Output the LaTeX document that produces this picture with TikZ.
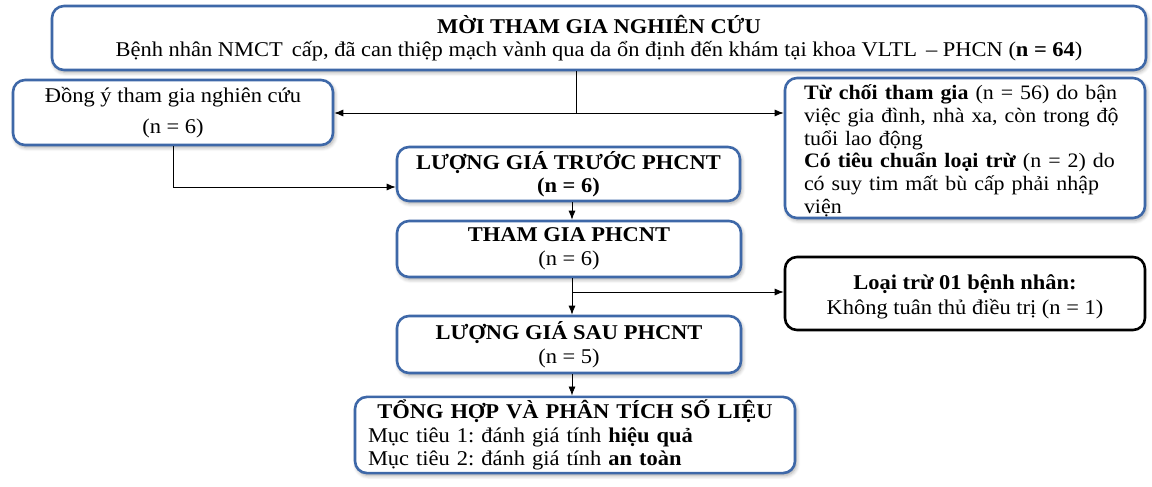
\documentclass[tikz,border=0pt]{standalone}
\usepackage{fontspec}
\setmainfont{Liberation Serif}[FakeStretch=1.07]
\usetikzlibrary{arrows.meta,shadows.blur}
\definecolor{boxblue}{RGB}{62,104,168}
\begin{document}
\fontsize{21}{23.5}\selectfont\frenchspacing
\begin{tikzpicture}[x=1pt,y=-1pt,
  box/.style={draw=boxblue, line width=2.6pt, rounded corners=12pt, fill=white,
    blur shadow={shadow xshift=1.5pt, shadow yshift=-2.5pt, shadow blur steps=6, shadow opacity=35},
    inner sep=3pt, align=center},
  blackbox/.style={draw=black, line width=2.6pt, rounded corners=12pt, fill=white, inner sep=3pt, align=center},
  conn/.style={line width=0.8pt, -{Latex[length=9pt,width=7pt]}},
  plainline/.style={line width=0.8pt}]
\useasboundingbox (0,0) rectangle (1152,487);

\node[box, minimum width=1094pt, minimum height=64pt] (top) at (599,38)
  {\textbf{MỜI THAM GIA NGHIÊN CỨU}\\[0pt]
   Bệnh nhân NMCT\, cấp, đã can thiệp mạch vành qua da ổn định đến khám tại khoa VLTL\, – PHCN (\textbf{n = 64})};

\node[box, minimum width=320pt, minimum height=65pt] (left) at (173,112.5)
  {Đồng ý tham gia nghiên cứu\\[8pt] (n = 6)};

\node[box, minimum width=360pt, minimum height=140pt, inner sep=0pt, align=left, text width=322pt] (right) at (965,148)
  {\fontsize{20.5}{22.6}\selectfont\rule{0pt}{21pt}\textbf{Từ chối tham gia} (n = 56) do bận\\
   việc gia đình, nhà xa, còn trong độ\\
   tuổi lao động\\
   \textbf{Có tiêu chuẩn loại trừ} (n = 2) do\\
   có suy tim mất bù cấp phải nhập\\
   viện};

\node[box, minimum width=343pt, minimum height=54pt] (lg1) at (568.5,174)
  {\textbf{LƯỢNG GIÁ TRƯỚC PHCNT}\\ \textbf{(n = 6)}};

\node[box, minimum width=344pt, minimum height=56pt] (tg) at (569,249)
  {\textbf{THAM GIA PHCNT}\\ (n = 6)};

\node[blackbox, minimum width=360pt, minimum height=73pt] (loai) at (965,293.5)
  {\rule{0pt}{22pt}\textbf{Loại trừ 01 bệnh nhân:}\\[1pt] Không tuân thủ điều trị (n = 1)};

\node[box, minimum width=344pt, minimum height=57pt] (lg2) at (569,344.5)
  {\textbf{LƯỢNG GIÁ SAU PHCNT}\\ (n = 5)};

\node[box, minimum width=440pt, minimum height=70pt, text width=414pt, align=left] (th) at (575,435)
  {\makebox[\linewidth]{\textbf{TỔNG HỢP VÀ PHÂN TÍCH SỐ LIỆU}}\\
   Mục tiêu 1: đánh giá tính \textbf{hiệu quả}\\
   Mục tiêu 2: đánh giá tính \textbf{an toàn}};

% connectors
\coordinate (j) at (576,113);
\coordinate (ax) at (572,0);
\coordinate (br) at (572,292);
\draw[plainline] (top.south -| j) -- (j);
\draw[conn] (j) -- (j -| left.east);
\draw[conn] (j) -- (j -| right.west);
\draw[conn] (left.south) |- ([yshift=-13pt]lg1.west);
\draw[conn] (lg1.south -| ax) -- (tg.north -| ax);
\draw[conn] (tg.south -| ax) -- (lg2.north -| ax);
\draw[conn] (br) -- (br -| loai.west);
\draw[conn] (lg2.south -| ax) -- (th.north -| ax);
\end{tikzpicture}
\end{document}
